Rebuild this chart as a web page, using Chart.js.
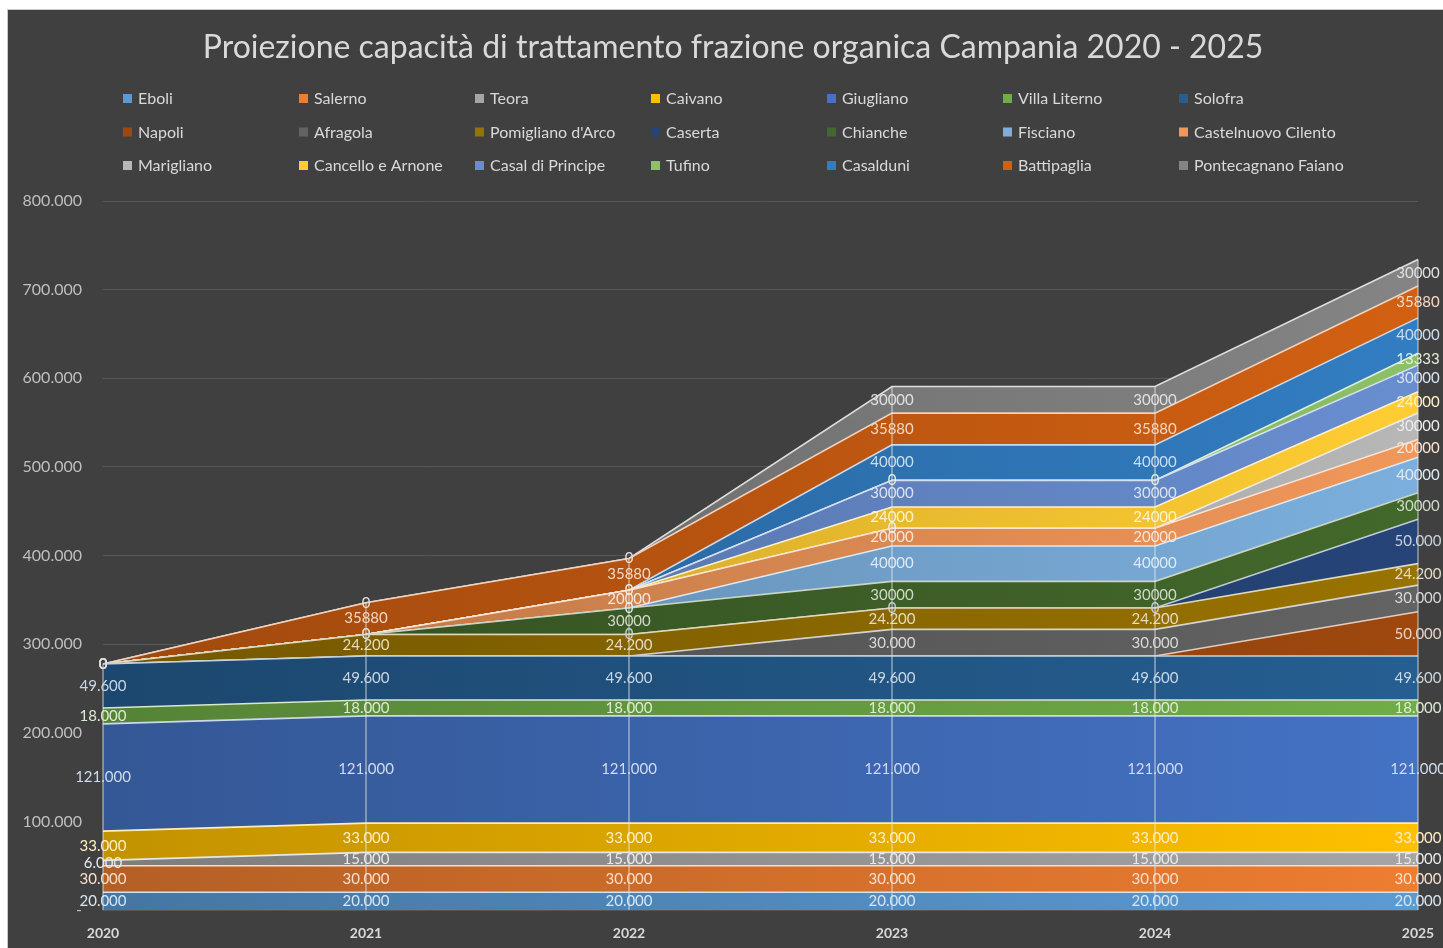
<!DOCTYPE html>
<html>
<head>
<meta charset="utf-8">
<script src="https://cdn.jsdelivr.net/npm/chart.js@4.4.1/dist/chart.umd.min.js"></script>
<style>
  html, body { margin: 0; padding: 0; background: #ffffff; overflow: hidden; }
  #box { position: absolute; left: 7px; top: 9px; width: 1435px; height: 938px;
         border-top: 1px solid #c8c8c8; border-left: 1px solid #c8c8c8; background: #404040; }
  canvas { display: block; }
</style>
</head>
<body>
<div id="box"><canvas id="chart" width="1435" height="938"></canvas></div>
<script>
// categorie
const years = ['2020', '2021', '2022', '2023', '2024', '2025'];

// valori per impianto (null = nessun valore / nessuna etichetta)
const eboli        = [20000, 20000, 20000, 20000, 20000, 20000];
const salerno      = [30000, 30000, 30000, 30000, 30000, 30000];
const teora        = [6000, 15000, 15000, 15000, 15000, 15000];
const caivano      = [33000, 33000, 33000, 33000, 33000, 33000];
const giugliano    = [121000, 121000, 121000, 121000, 121000, 121000];
const villaLiterno = [18000, 18000, 18000, 18000, 18000, 18000];
const solofra      = [49600, 49600, 49600, 49600, 49600, 49600];
const napoli       = [null, null, null, null, null, 50000];
const afragola     = [null, null, null, 30000, 30000, 30000];
const pomigliano   = [0, 24200, 24200, 24200, 24200, 24200];
const caserta      = [0, 0, 0, 0, 0, 50000];
const chianche     = [null, 0, 30000, 30000, 30000, 30000];
const fisciano     = [null, null, 0, 40000, 40000, 40000];
const castelnuovo  = [null, null, 20000, 20000, 20000, 20000];
const marigliano   = [null, null, 0, 0, null, 30000];
const cancello     = [null, null, null, 24000, 24000, 24000];
const casalPrinc   = [null, null, null, 30000, 30000, 30000];
const tufino       = [null, null, null, 0, 0, 13333];
const casalduni    = [null, null, null, 40000, 40000, 40000];
const battipaglia  = [0, 35880, 35880, 35880, 35880, 35880];
const pontecagnano = [0, 0, 0, 30000, 30000, 30000];

const seriesNames = ['Eboli', 'Salerno', 'Teora', 'Caivano', 'Giugliano', 'Villa Literno', 'Solofra',
  'Napoli', 'Afragola', "Pomigliano d'Arco", 'Caserta', 'Chianche', 'Fisciano', 'Castelnuovo Cilento',
  'Marigliano', 'Cancello e Arnone', 'Casal di Principe', 'Tufino', 'Casalduni', 'Battipaglia', 'Pontecagnano Faiano'];
const seriesValues = [eboli, salerno, teora, caivano, giugliano, villaLiterno, solofra,
  napoli, afragola, pomigliano, caserta, chianche, fisciano, castelnuovo,
  marigliano, cancello, casalPrinc, tufino, casalduni, battipaglia, pontecagnano];

// le serie con formato "migliaia con punto"
const dotFormat = ['Eboli', 'Salerno', 'Teora', 'Caivano', 'Giugliano', 'Villa Literno', 'Solofra',
  'Napoli', 'Afragola', "Pomigliano d'Arco", 'Caserta'];

const palette = ['#5B9BD5', '#ED7D31', '#A5A5A5', '#FFC000', '#4472C4', '#70AD47', '#255E91',
  '#9E480E', '#636363', '#997300', '#264478', '#43682B', '#7CAFDD', '#F1975A',
  '#B7B7B7', '#FFCD33', '#698ED0', '#8CC168', '#327DC2', '#D26012', '#848484'];

const FONT = 'Lato, "Open Sans", sans-serif';

function hexRgb(h) {
  const n = parseInt(h.slice(1), 16);
  return [(n >> 16) & 255, (n >> 8) & 255, n & 255];
}
function mix(h, f, toWhite) {
  const c = hexRgb(h).map(v => toWhite ? Math.round(v + (255 - v) * f) : Math.round(v * f));
  return 'rgb(' + c.join(',') + ')';
}
function fmt(v, dots) {
  const s = String(v);
  return dots ? s.replace(/\B(?=(\d{3})+(?!\d))/g, '.') : s;
}

const datasets = seriesNames.map((name, i) => ({
  label: name,
  data: seriesValues[i].map(v => v === null ? 0 : v),
  fill: i === 0 ? 'origin' : '-1',
  borderColor: mix(palette[i], 0.72, true),
  borderWidth: 1.6,
  pointRadius: 0,
  pointHoverRadius: 0,
  tension: 0,
  backgroundColor: (ctx) => {
    const ca = ctx.chart.chartArea;
    if (!ca) return palette[i];
    const g = ctx.chart.ctx.createLinearGradient(ca.left, 0, ca.right, 0);
    g.addColorStop(0, mix(palette[i], 0.76, false));
    g.addColorStop(1, palette[i]);
    return g;
  },
}));

// titolo + legenda a griglia (7 colonne come in Excel)
const headerPlugin = {
  id: 'header',
  afterDraw(chart) {
    const c = chart.ctx;
    c.save();
    c.fillStyle = '#d9d9d9';
    c.font = '32px ' + FONT;
    c.textAlign = 'center';
    c.textBaseline = 'middle';
    c.fillText('Proiezione capacità di trattamento frazione organica Campania 2020 - 2025', 725, 38);

    c.font = '16px ' + FONT;
    c.textAlign = 'left';
    seriesNames.forEach((name, i) => {
      const col = i % 7, row = Math.floor(i / 7);
      const x = 115 + col * 176, y = 88 + row * 33.5;
      c.fillStyle = palette[i];
      c.fillRect(x, y - 4, 9, 9);
      c.fillStyle = '#d9d9d9';
      c.fillText(name, x + 15, y + 1);
    });
    c.restore();
  }
};

// linee di proiezione + etichette dati
const labelPlugin = {
  id: 'labels',
  afterDatasetsDraw(chart) {
    const c = chart.ctx;
    const yScale = chart.scales.y;
    const n = chart.data.datasets.length;
    const top = chart.getDatasetMeta(n - 1).data;
    c.save();
    c.strokeStyle = 'rgba(235,235,235,0.55)';
    c.lineWidth = 1.5;
    top.forEach(pt => {
      c.beginPath();
      c.moveTo(pt.x, pt.y);
      c.lineTo(pt.x, yScale.getPixelForValue(0));
      c.stroke();
    });

    c.font = '15px ' + FONT;
    c.textAlign = 'center';
    c.textBaseline = 'middle';
    for (let i = 0; i < n; i++) {
      const pts = chart.getDatasetMeta(i).data;
      const prev = i > 0 ? chart.getDatasetMeta(i - 1).data : null;
      const dots = dotFormat.includes(seriesNames[i]);
      c.fillStyle = mix(palette[i], 0.75, true);
      seriesValues[i].forEach((v, j) => {
        if (v === null) return;
        const y1 = pts[j].y;
        const y0 = prev ? prev[j].y : yScale.getPixelForValue(0);
        c.fillText(fmt(v, dots), pts[j].x, (y0 + y1) / 2);
      });
    }
    c.restore();
  }
};

const config = {
  type: 'line',
  data: { labels: years, datasets: datasets },
  options: {
    responsive: false,
    animation: false,
    devicePixelRatio: 1,
    layout: { padding: { top: 191, right: 25, left: 0, bottom: 0 } },
    plugins: {
      legend: { display: false },
      title: { display: false },
      tooltip: { enabled: false },
    },
    scales: {
      x: {
        offset: false,
        grid: { display: false },
        border: { display: false },
        ticks: { color: '#d9d9d9', padding: 7, font: { family: FONT, size: 14, weight: 'bold' } },
        afterFit(scale) {
          scale.height = 38;
          scale.paddingLeft = 0;
          scale.paddingRight = 0;
        },
      },
      y: {
        stacked: true,
        min: 0,
        max: 800000,
        grid: { color: '#575757', lineWidth: 1, drawTicks: false },
        border: { display: false },
        ticks: {
          stepSize: 100000,
          padding: 21,
          color: '#bfbfbf',
          font: { family: FONT, size: 16 },
          callback: (v) => v === 0 ? '-' : fmt(v, true),
        },
        afterFit(scale) { scale.width = 95; },
      },
    },
  },
  plugins: [labelPlugin, headerPlugin],
};

const chart = new Chart(document.getElementById('chart'), config);
</script>
</body>
</html>
